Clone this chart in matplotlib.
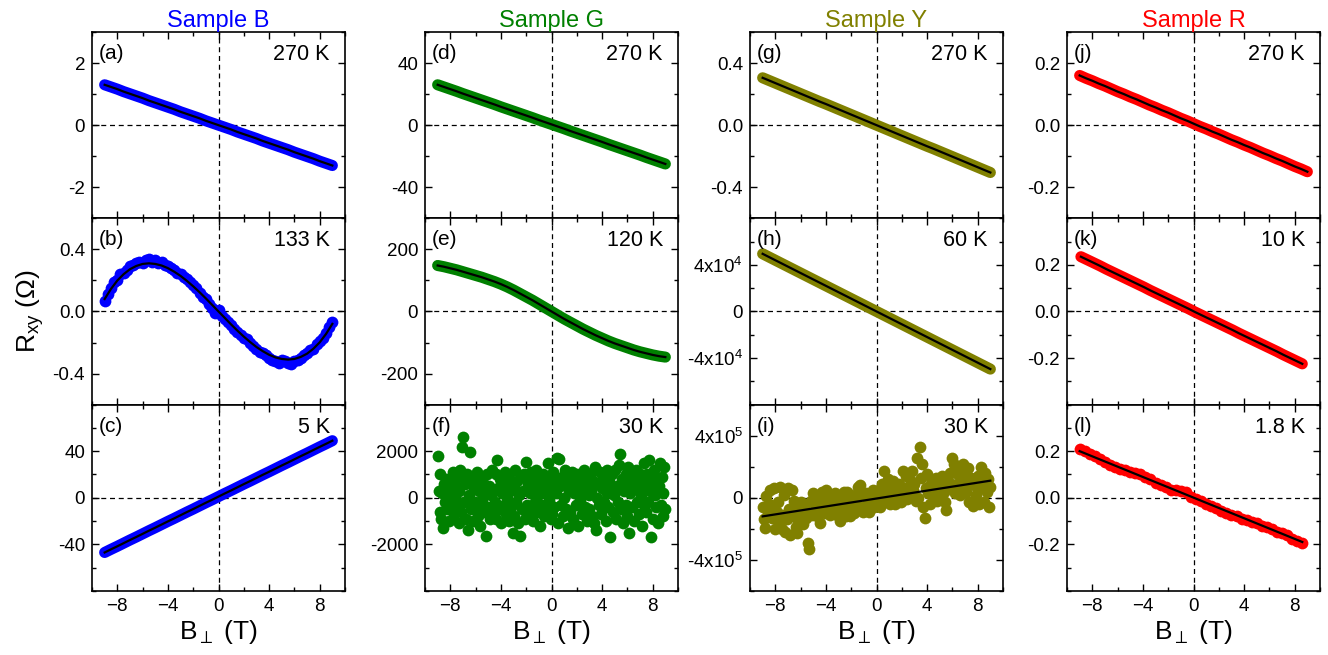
import matplotlib
matplotlib.use('Agg')
import matplotlib.pyplot as plt
import numpy as np
from matplotlib.ticker import MultipleLocator, FixedLocator, FixedFormatter

plt.rcParams['font.family'] = ['Liberation Sans', 'DejaVu Sans']
plt.rcParams['mathtext.fontset'] = 'custom'
plt.rcParams['mathtext.rm'] = 'Liberation Sans'
plt.rcParams['mathtext.it'] = 'Liberation Sans:italic'
plt.rcParams['mathtext.fallback'] = 'stixsans'

BLUE = '#0000ff'; GREEN = '#008000'; OLIVE = '#808000'; RED = '#ff0000'

# ---- field sweeps (T) ----
b_std = np.linspace(-9, 9, 37)        # 0.5 T steps
b_b = np.linspace(-9, 9, 73)          # 0.25 T steps
b_k = np.linspace(-8.9, 8.6, 36)
b_l = np.linspace(-9, 8.6, 45)
b_f = np.linspace(-9, 9, 241)
b_i = np.linspace(-9, 9, 181)

# ---- Sample B ----
r_a = [1.30, 1.23, 1.16, 1.08, 1.01, 0.94, 0.87, 0.79, 0.72, 0.65, 0.58, 0.51, 0.43,
       0.36, 0.29, 0.22, 0.14, 0.07, 0.00, -0.07, -0.14, -0.22, -0.29, -0.36, -0.43,
       -0.51, -0.58, -0.65, -0.72, -0.79, -0.87, -0.94, -1.01, -1.08, -1.16, -1.23, -1.30]
r_b = [0.07, 0.11, 0.15, 0.19, 0.20, 0.24, 0.25, 0.27, 0.29, 0.30,
       0.31, 0.32, 0.31, 0.33, 0.34, 0.32, 0.33, 0.31, 0.32, 0.30,
       0.29, 0.28, 0.27, 0.25, 0.24, 0.22, 0.21, 0.19, 0.17, 0.15,
       0.12, 0.09, 0.08, 0.05, 0.02, -0.01, 0.01, -0.03, -0.05, -0.07,
       -0.09, -0.11, -0.13, -0.15, -0.17, -0.18, -0.20, -0.22, -0.24, -0.26,
       -0.27, -0.28, -0.30, -0.31, -0.32, -0.33, -0.31, -0.32, -0.33, -0.34,
       -0.32, -0.31, -0.30, -0.28, -0.27, -0.25, -0.24, -0.21, -0.19, -0.17,
       -0.14, -0.10, -0.07]
fit_b = [0.080, 0.145, 0.199, 0.240, 0.272, 0.293, 0.306, 0.310, 0.306, 0.296, 0.279,
         0.256, 0.229, 0.197, 0.162, 0.124, 0.084, 0.042, 0.0, -0.042, -0.084, -0.124,
         -0.162, -0.197, -0.229, -0.256, -0.279, -0.296, -0.306, -0.310, -0.306, -0.293,
         -0.272, -0.240, -0.199, -0.145, -0.080]
r_c = [-47.0, -44.3, -41.7, -39.0, -36.3, -33.7, -31.0, -28.3, -25.7, -23.0, -20.3,
       -17.7, -15.0, -12.3, -9.7, -7.0, -4.3, -1.7, 1.0, 3.7, 6.3, 9.0, 11.7, 14.3,
       17.0, 19.7, 22.3, 25.0, 27.7, 30.3, 33.0, 35.7, 38.3, 41.0, 43.7, 46.3, 49.0]

# ---- Sample G ----
r_d = [26.0, 24.6, 23.2, 21.8, 20.3, 18.9, 17.5, 16.1, 14.7, 13.3, 11.8, 10.4, 9.0,
       7.6, 6.2, 4.8, 3.3, 1.9, 0.5, -0.9, -2.3, -3.8, -5.2, -6.6, -8.0, -9.4, -10.8,
       -12.3, -13.7, -15.1, -16.5, -17.9, -19.3, -20.8, -22.2, -23.6, -25.0]
r_e = [148, 144, 139, 134, 128, 122, 116, 110, 103, 96, 88, 79, 69, 58, 47, 36, 24, 12,
       0, -12, -24, -35, -46, -57, -67, -77, -86, -95, -103, -110, -117, -124, -130,
       -135, -140, -144, -147]
r_f = [1800, 300, -600, 1000, -900, 200, -1300, 600, -200, 800,
       -500, 400, -1000, 100, 700, -300, 1100, -700, 500, -100,
       -400, 900, -1100, 300, 1200, -600, 2200, 2600, -200, 600,
       -900, 1000, -1400, 100, 1950, -500, 700, -1000, 400, -200,
       800, -300, 1100, -800, 300, -1200, 600, -100, 900, -600,
       200, -1650, 1000, -400, 500, -900, 100, 1200, -700, 300,
       -200, 1000, -900, 1600, 400, -500, 800, -1100, 200, 600,
       -300, 1100, -700, 0, 900, -1000, 300, -400, 700, -1500,
       500, -800, 1200, -200, 700, -1100, 100, -1660, 900, -500,
       300, 1000, -900, 1550, -300, 600, -700, 200, 1100, -400,
       800, -1000, 400, -200, 1200, -600, 100, 700, -1200, 500,
       -300, 1000, -800, 200, 900, -500, 1500, -100, 600, -900,
       300, -700, 1100, -400, 800, 200, 1700, -1100, 1650, 500,
       -300, 900, -800, 0, 1200, -500, 600, -1300, 300, 1000,
       -600, 400, 1100, -900, 200, 700, -300, 1000, -1200, 500,
       -100, 800, -700, 300, 1200, -400, 600, -1000, 900, 100,
       -500, 1000, 300, -800, 700, -1100, 1300, -1400, 0, 600,
       -300, 1100, -700, 400, 900, -200, 800, -1000, 200, 1200,
       -400, 700, -1700, 300, 1000, -600, 100, 1200, -900, 500,
       -200, 1400, 1900, -500, 800, -1100, 300, 600, -300, 1000,
       -800, 1300, -1500, 200, 900, -400, 700, -1000, 400, 1200,
       -200, 600, -700, 1000, 100, -1200, 800, -300, 1500, 400,
       -600, 1000, -200, 1600, 300, -1700, 700, -900, 1200, 100,
       -400, 800, -1100, 500, 1500, -300, 900, -800, 200, 1300,
       -500]

# ---- Sample Y ----
r_g = [0.305, 0.288, 0.271, 0.254, 0.237, 0.220, 0.203, 0.186, 0.169, 0.152, 0.136,
       0.119, 0.102, 0.085, 0.068, 0.051, 0.034, 0.017, 0.000, -0.017, -0.034, -0.051,
       -0.068, -0.085, -0.102, -0.119, -0.136, -0.152, -0.169, -0.186, -0.203, -0.220,
       -0.237, -0.254, -0.271, -0.288, -0.305]
r_h = [49500, 46750, 44000, 41250, 38500, 35750, 33000, 30250, 27500, 24750, 22000,
       19250, 16500, 13750, 11000, 8250, 5500, 2750, 0, -2750, -5500, -8250, -11000,
       -13750, -16500, -19250, -22000, -24750, -27500, -30250, -33000, -35750, -38500,
       -41250, -44000, -46750, -49500]
# panel (i) in units of 1e5 Ohm
r_i = [-0.6, -1.4, -1.95, 0.1, -1.0, -0.4, 0.5, -1.3, -0.8, 0.6,
       -2.0, -0.9, -0.3, -1.6, 0.7, -2.0, -1.1, 0.2, -2.2, -1.4,
       0.6, -0.7, -2.4, 0.5, -1.2, -0.2, -1.9, -2.3, -1.45, -0.6,
       -0.3, -1.0, -1.7, -0.5, -1.3, -0.9, -2.9, -3.3, -0.2, -1.1,
       0.3, -0.8, -0.4, -1.2, 0.1, -1.6, -0.7, 0.4, -0.3, -1.0,
       0.5, -0.6, 0.2, -1.1, -0.3, 0.0, -0.8, 0.3, -0.5, -1.1,
       -0.2, -1.5, 0.1, -0.6, 0.4, -0.9, -1.2, 0.4, -0.3, -1.2,
       0.2, -0.5, -1.0, 0.1, -0.4, 0.7, -0.7, 0.8, 0.15, -0.9,
       0.2, -0.5, 0.3, -0.35, -0.9, 0.1, -0.2, 0.5, -0.6, 0.3,
       0.1, -0.3, 0.5, -0.6, 0.9, 0.2, 1.7, -0.2, 0.6, 1.2,
       0.3, -0.4, 0.8, 1.1, -0.2, -0.4, 0.6, 0.1, 0.9, -0.3,
       0.4, 1.7, 0.2, 1.4, -0.1, 0.7, 0.3, 1.1, 1.7, 0.5,
       0.9, -0.2, 2.55, 0.0, 3.3, 1.3, 2.2, -0.6, -1.3, 0.6,
       1.5, 0.3, -0.4, 0.9, 1.1, 0.1, 0.7, 1.3, -0.2, 0.5,
       1.0, 0.1, 1.4, 0.4, -0.3, -0.8, 1.2, 0.6, 1.6, 0.9,
       2.55, 2.2, 0.3, 1.6, 0.9, 1.8, 0.2, 1.2, 2.2, 0.7,
       1.5, 0.4, 1.9, -0.3, 0.9, 1.3, -0.5, 0.8, 1.1, 0.2,
       1.4, -0.4, 0.6, 2.0, 1.0, -0.3, 1.6, 0.4, 1.2, -0.6,
       0.7]
fit_i_b = [-9, 9]
fit_i = [-1.2e5, 1.1e5]

# ---- Sample R ----
r_j = [0.160, 0.151, 0.143, 0.134, 0.126, 0.117, 0.108, 0.100, 0.091, 0.083, 0.074,
       0.065, 0.057, 0.048, 0.040, 0.031, 0.022, 0.014, 0.005, -0.004, -0.012, -0.021,
       -0.029, -0.038, -0.047, -0.055, -0.064, -0.072, -0.081, -0.090, -0.098, -0.107,
       -0.115, -0.124, -0.133, -0.141, -0.150]
r_k = [0.235, 0.222, 0.209, 0.196, 0.182, 0.169, 0.156, 0.143, 0.130, 0.117, 0.104,
       0.090, 0.077, 0.064, 0.051, 0.038, 0.025, 0.012, -0.002, -0.015, -0.028, -0.041,
       -0.054, -0.067, -0.080, -0.094, -0.107, -0.120, -0.133, -0.146, -0.159, -0.172,
       -0.186, -0.199, -0.212, -0.225]
r_l = [0.21, 0.20, 0.19, 0.18, 0.165, 0.155, 0.14, 0.13, 0.125, 0.12,
       0.11, 0.105, 0.10, 0.09, 0.08, 0.065, 0.055, 0.045, 0.035, 0.035,
       0.03, 0.025, 0.005, -0.005, -0.015, -0.025, -0.035, -0.045, -0.055, -0.065,
       -0.075, -0.08, -0.09, -0.095, -0.105, -0.11, -0.12, -0.125, -0.135, -0.145,
       -0.15, -0.16, -0.175, -0.185, -0.195]
fit_l_b = [-9, 8.6]
fit_l = [0.20, -0.19]

samples = ['Sample B', 'Sample G', 'Sample Y', 'Sample R']
colors = [BLUE, GREEN, OLIVE, RED]
temps = [['270 K', '133 K', '5 K'], ['270 K', '120 K', '30 K'],
         ['270 K', '60 K', '30 K'], ['270 K', '10 K', '1.8 K']]
letters = [['(a)', '(b)', '(c)'], ['(d)', '(e)', '(f)'],
           ['(g)', '(h)', '(i)'], ['(j)', '(k)', '(l)']]

# (kind, B, R, fitB, fitR, ylim, yticks, ylabels, minor)
panels = [
    [('band', b_std, r_a, None, None, 3, [-2, 0, 2], ['-2', '0', '2'], 1),
     ('dots', b_b, r_b, b_std, fit_b, 0.6, [-0.4, 0, 0.4], ['-0.4', '0.0', '0.4'], 0.2),
     ('band', b_std, r_c, None, None, 80, [-40, 0, 40], ['-40', '0', '40'], 20)],
    [('band', b_std, r_d, None, None, 60, [-40, 0, 40], ['-40', '0', '40'], 20),
     ('band', b_std, r_e, None, None, 300, [-200, 0, 200], ['-200', '0', '200'], 100),
     ('noise', b_f, r_f, None, None, 4000, [-2000, 0, 2000], ['-2000', '0', '2000'], 1000)],
    [('band', b_std, r_g, None, None, 0.6, [-0.4, 0, 0.4], ['-0.4', '0.0', '0.4'], 0.2),
     ('band', b_std, r_h, None, None, 8e4, [-4e4, 0, 4e4],
      [r'-4x10$^{4}$', '0', r'4x10$^{4}$'], 2e4),
     ('noise', b_i, np.array(r_i) * 1e5, fit_i_b, fit_i, 6e5, [-4e5, 0, 4e5],
      [r'-4x10$^{5}$', '0', r'4x10$^{5}$'], 2e5)],
    [('band', b_std, r_j, None, None, 0.3, [-0.2, 0, 0.2], ['-0.2', '0.0', '0.2'], 0.1),
     ('band', b_k, r_k, None, None, 0.4, [-0.2, 0, 0.2], ['-0.2', '0.0', '0.2'], 0.1),
     ('dots', b_l, r_l, fit_l_b, fit_l, 0.4, [-0.2, 0, 0.2], ['-0.2', '0.0', '0.2'], 0.1)],
]

W, H = 1328, 655
fig = plt.figure(figsize=(W / 100, H / 100), dpi=100)
lefts = [92, 425, 750, 1067]
pw, ph, top = 253, 186.3, 32

for ci in range(4):
    c = colors[ci]
    for ri in range(3):
        kind, bx, ry, fb, fr, lim, yt, yl, mn = panels[ci][ri]
        ax = fig.add_axes([lefts[ci] / W, 1 - (top + ph * (ri + 1)) / H, pw / W, ph / H])
        ax.axhline(0, color='k', ls=(0, (4, 3)), lw=0.9, zorder=1)
        ax.axvline(0, color='k', ls=(0, (4, 3)), lw=0.9, zorder=1)
        if kind == 'band':
            ax.plot(bx, ry, '-', color=c, lw=8, solid_capstyle='round',
                    solid_joinstyle='round', zorder=2)
            ax.plot(bx, ry, '-', color='k', lw=1.6, zorder=3)
        else:
            ax.scatter(bx, ry, s=72, color=c, linewidths=0, zorder=2)
            if fb is not None:
                ax.plot(fb, fr, '-', color='k', lw=1.6, zorder=3)
        ax.set_xlim(-10, 10)
        ax.set_ylim(-lim, lim)
        ax.yaxis.set_major_locator(FixedLocator(yt))
        ax.yaxis.set_major_formatter(FixedFormatter(yl))
        ax.yaxis.set_minor_locator(MultipleLocator(mn))
        ax.xaxis.set_major_locator(FixedLocator([-8, -4, 0, 4, 8]))
        ax.xaxis.set_minor_locator(MultipleLocator(2))
        ax.tick_params(which='both', direction='in', top=True, right=True, width=1.0,
                       labelsize=13.5, pad=5)
        ax.tick_params(which='major', length=5)
        ax.tick_params(which='minor', length=3)
        for s in ax.spines.values():
            s.set_linewidth(1.2)
        if ri < 2:
            ax.tick_params(labelbottom=False)
        else:
            ax.set_xlabel(r'B$_{\perp}$ (T)', fontsize=19, labelpad=2)
        ax.text(0.025, 0.935, letters[ci][ri], transform=ax.transAxes, ha='left', va='top',
                fontsize=15)
        ax.text(0.94, 0.935, temps[ci][ri], transform=ax.transAxes, ha='right', va='top',
                fontsize=15.5)
        if ri == 0:
            ax.set_title(samples[ci], color=c, fontsize=17, pad=3)

fig.text(30 / W, 1 - 311 / H, r'R$_{\rm xy}$ ($\Omega$)', rotation=90, ha='center',
         va='center', fontsize=19)
fig.savefig('out.png', dpi=100)
